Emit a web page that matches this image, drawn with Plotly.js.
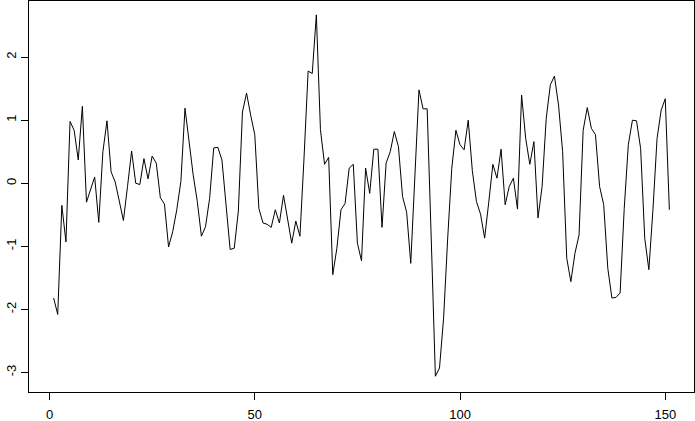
<!DOCTYPE html>
<html>
<head>
<meta charset="utf-8">
<script src="https://cdn.plot.ly/plotly-3.0.1.min.js"></script>
<style>html,body{margin:0;padding:0;background:#fff;}#chart{width:695px;height:421px;}</style>
</head>
<body>
<div id="chart"></div>
<script>
const values = [
 -1.82, -2.08, -0.35, -0.93, 0.98, 0.84, 0.37, 1.22, -0.30, -0.10,
 0.10, -0.62, 0.50, 0.99, 0.18, 0.02, -0.26, -0.59, -0.05, 0.51,
 0.00, -0.02, 0.39, 0.07, 0.43, 0.32, -0.23, -0.33, -1.01, -0.77,
 -0.42, 0.03, 1.19, 0.66, 0.13, -0.29, -0.84, -0.69, -0.24, 0.56,
 0.57, 0.37, -0.29, -1.05, -1.03, -0.44, 1.13, 1.43, 1.08, 0.77,
 -0.40, -0.63, -0.65, -0.70, -0.42, -0.63, -0.19, -0.55, -0.95, -0.60,
 -0.84, 0.40, 1.78, 1.74, 2.67, 0.85, 0.30, 0.41, -1.45, -1.03,
 -0.42, -0.32, 0.24, 0.30, -0.95, -1.23, 0.24, -0.16, 0.54, 0.54,
 -0.70, 0.32, 0.50, 0.82, 0.58, -0.21, -0.46, -1.27, 0.15, 1.48,
 1.18, 1.18, -0.90, -3.06, -2.93, -2.14, -0.87, 0.24, 0.84, 0.61,
 0.53, 1.00, 0.20, -0.29, -0.49, -0.87, -0.30, 0.30, 0.08, 0.54,
 -0.34, -0.05, 0.08, -0.41, 1.40, 0.71, 0.30, 0.66, -0.55, -0.05,
 1.03, 1.56, 1.70, 1.24, 0.50, -1.19, -1.56, -1.11, -0.82, 0.84,
 1.20, 0.87, 0.77, -0.05, -0.34, -1.35, -1.82, -1.81, -1.74, -0.40,
 0.61, 1.00, 0.99, 0.55, -0.87, -1.37, -0.42, 0.71, 1.16, 1.34,
 -0.42
];
const index = values.map((v, i) => i + 1);
const xTicks = [0, 50, 100, 150];
const yTicks = [-3, -2, -1, 0, 1, 2];

const trace = {
  x: index, y: values, type: 'scatter', mode: 'lines',
  line: {color: '#000', width: 1}, hoverinfo: 'skip'
};
const font = {family: 'Liberation Sans, Arial, sans-serif', size: 13, color: '#000'};
const layout = {
  width: 695, height: 421,
  margin: {l: 29.3, r: 1.3, t: 1, b: 28.7, pad: 0},
  paper_bgcolor: '#fff', plot_bgcolor: '#fff',
  showlegend: false, font: font,
  xaxis: {
    range: [-5, 157], showgrid: false, zeroline: false,
    showline: true, mirror: true, linecolor: '#000', linewidth: 1,
    tickmode: 'array', tickvals: xTicks, ticktext: xTicks.map(String),
    ticks: 'outside', ticklen: 7, tickcolor: '#000', tickwidth: 1,
    tickfont: font, ticklabelstandoff: 3
  },
  yaxis: {
    range: [-3.31, 2.89], showgrid: false, zeroline: false,
    showline: true, mirror: true, linecolor: '#000', linewidth: 1,
    tickmode: 'array', tickvals: yTicks, ticktext: yTicks.map(String),
    ticks: 'outside', ticklen: 7, tickcolor: '#000', tickwidth: 1,
    tickangle: -90, tickfont: font
  }
};
Plotly.newPlot('chart', [trace], layout, {staticPlot: true, displayModeBar: false});
</script>
</body>
</html>
